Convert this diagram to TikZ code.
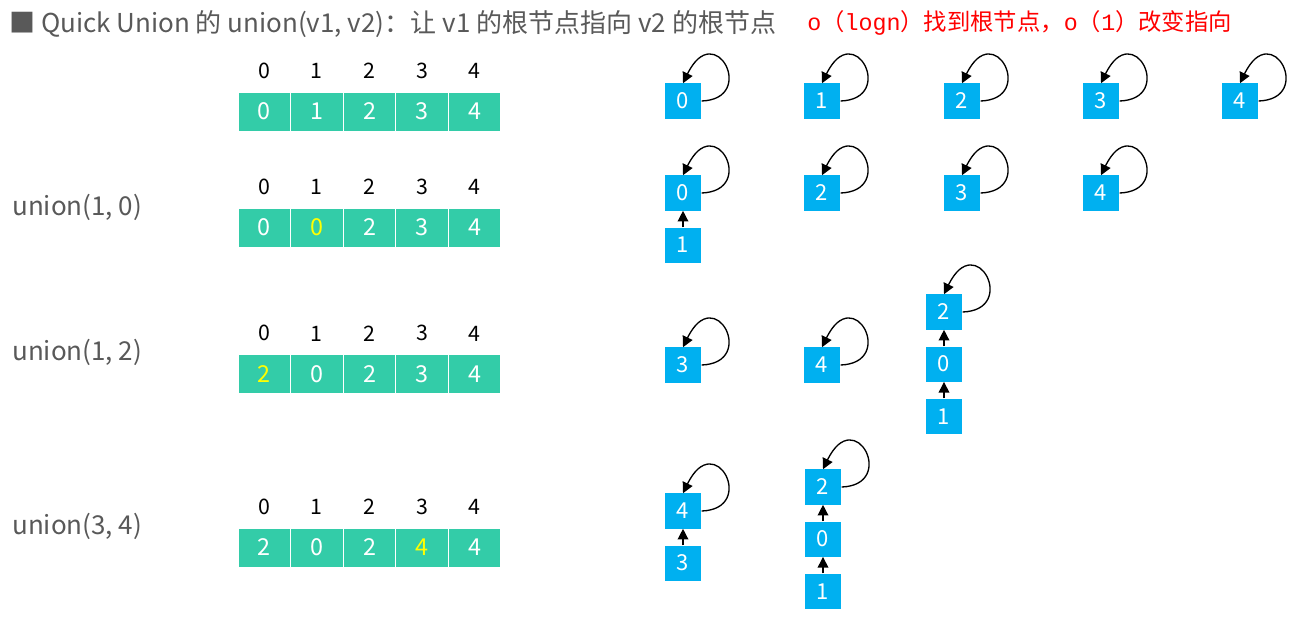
\documentclass[tikz,border=0pt]{standalone}
\usepackage{fontspec}
\setmainfont{Noto Sans CJK SC}
\newfontfamily\codefont{Liberation Mono}
\usetikzlibrary{arrows.meta,positioning}

\definecolor{cellgreen}{HTML}{33CCA8}
\definecolor{boxblue}{HTML}{00B0F0}
\definecolor{textgray}{HTML}{595959}
\definecolor{hilite}{HTML}{FFFF00}
\definecolor{notered}{HTML}{FF0000}

\begin{document}
\begin{tikzpicture}[
    x=0.75pt, y=-0.75pt,
    cell/.style={rectangle, fill=cellgreen, draw=white, line width=0.8pt, minimum width=39.45pt, minimum height=29.3pt, inner sep=0pt, text=white, font=\fontsize{17.5}{17.5}\selectfont},
    idx/.style={inner sep=0pt, font=\fontsize{16}{16}\selectfont},
    elem/.style={rectangle, fill=boxblue, minimum width=27.6pt, minimum height=26.3pt, inner sep=0pt, text=white, font=\fontsize{16.5}{16.5}\selectfont},
    ptr/.style={-{Triangle[length=8pt,width=8pt]}, line width=1pt},
    op/.style={anchor=west, inner sep=0pt, text=textgray, font=\fontsize{19.5}{19.5}\selectfont},
    node distance=12.4pt
    ]
    \useasboundingbox (0,0) rectangle (1299,618);
    % title
    \node[anchor=base west, inner sep=0pt, text=textgray, font=\fontsize{19.5}{19.5}\selectfont] (title) at (9,32)
      {■ Quick Union 的 union(v1, v2)：让 v1 的根节点指向 v2 的根节点};
    \node[anchor=west, inner sep=0pt, text=notered, font=\fontsize{17.5}{17.5}\selectfont] (note) at (807,23)
      {{\codefont o}（{\codefont logn}）找到根节点，{\codefont o}（{\codefont 1}）改变指向};
    % operations
    \node[op] (op1) at (12,207) {union(1, 0)};
    \node[op] (op2) at (12,352) {union(1, 2)};
    \node[op] (op3) at (12,526) {union(3, 4)};
    % arrays
    \foreach \r/\y/\vals/\hl in {1/111.5/{0,1,2,3,4}/9, 2/227.5/{0,0,2,3,4}/1, 3/374/{2,0,2,3,4}/0, 4/547.5/{2,0,2,4,4}/3} {
      \foreach \v [count=\c from 0] in \vals {
        \node[cell] (a\r-\c) at (264.3+52.6*\c, \y) {\ifnum\c=\hl\color{hilite}\fi\v};
        \node[idx, above=9.5pt of a\r-\c] (i\r-\c) {\c};
      }
    }
    % row 1
    \node[elem] (r1n0) at (683,101) {0};
    \node[elem] (r1n1) at (822,101) {1};
    \node[elem] (r1n2) at (962,101) {2};
    \node[elem] (r1n3) at (1101,101) {3};
    \node[elem] (r1n4) at (1240,101) {4};
    % row 2
    \node[elem] (r2n0) at (683,193) {0};
    \node[elem, below=of r2n0] (r2n1) {1};
    \node[elem] (r2n2) at (822,193) {2};
    \node[elem] (r2n3) at (962,193) {3};
    \node[elem] (r2n4) at (1101,193) {4};
    % row 3
    \node[elem] (r3n3) at (683,365) {3};
    \node[elem] (r3n4) at (822,365) {4};
    \node[elem] (r3n2) at (944,312) {2};
    \node[elem, below=of r3n2] (r3n0) {0};
    \node[elem, below=of r3n0] (r3n1) {1};
    % row 4
    \node[elem] (r4n4) at (683,511) {4};
    \node[elem, below=of r4n4] (r4n3) {3};
    \node[elem] (r4n2) at (823,487) {2};
    \node[elem, below=of r4n2] (r4n0) {0};
    \node[elem, below=of r4n0] (r4n1) {1};
    % roots point to themselves
    \foreach \n in {r1n0,r1n1,r1n2,r1n3,r1n4,r2n0,r2n2,r2n3,r2n4,r3n3,r3n4,r3n2,r4n4,r4n2}
      \draw[ptr] (\n.east) .. controls +(56,-2) and +(32,-66) .. (\n.north);
    % parent links
    \draw[ptr] (r2n1) -- (r2n0);
    \draw[ptr] (r3n0) -- (r3n2);
    \draw[ptr] (r3n1) -- (r3n0);
    \draw[ptr] (r4n3) -- (r4n4);
    \draw[ptr] (r4n0) -- (r4n2);
    \draw[ptr] (r4n1) -- (r4n0);
\end{tikzpicture}
\end{document}
